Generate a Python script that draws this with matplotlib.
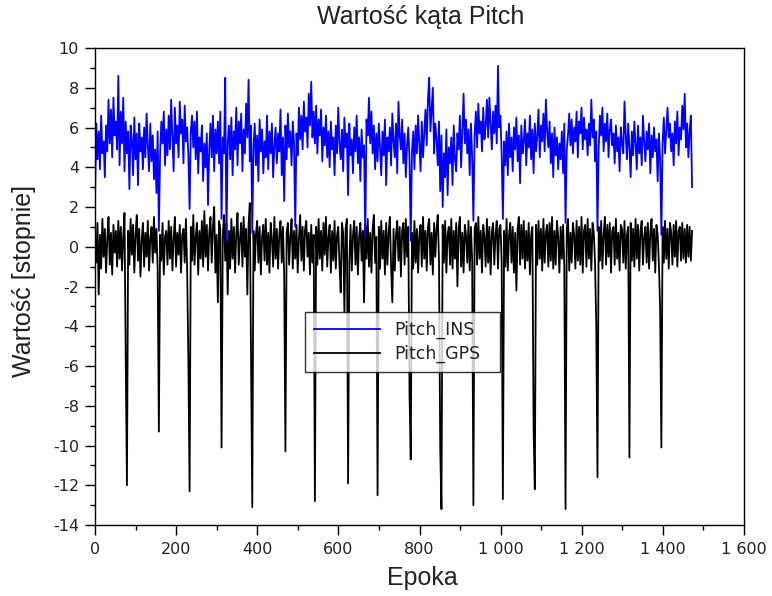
import numpy as np
import matplotlib
matplotlib.use("Agg")
import matplotlib.pyplot as plt
from matplotlib.ticker import MultipleLocator, FuncFormatter

plt.rcParams['font.family'] = ['Liberation Sans', 'DejaVu Sans']

# Last epoch of the record; samples below are evenly spread from epoch 0 to it
LAST_EPOCH = 1472

# Pitch from INS, in tenths of a degree (about one sample every 3 epochs)
pitch_ins_tenths = [
    22, 62, 44, 58, 39, 66, 47, 53, 35, 61,
    48, 74, 52, 69, 45, 75, 56, 63, 49, 86,
    41, 68, 52, 75, 38, 63, 47, 58, 29, 61,
    54, 36, 65, 44, 57, 31, 62, 48, 55, 39,
    60, 45, 67, 51, 38, 62, 43, 56, 34, 49,
    27, 58, 8, 47, 63, 52, 68, 41, 59, 46,
    66, 49, 74, 55, 38, 70, 52, 61, 45, 73,
    57, 64, 42, 71, 53, 60, 46, 19, 58, 66,
    50, 63, 44, 68, 37, 55, 48, 61, 33, 52,
    40, 57, 21, 49, 62, 45, 66, 38, 59, 47,
    63, 42, 68, 14, 55, 47, 85, 3, 52, 61,
    44, 65, 36, 58, 49, 70, 41, 63, 52, 67,
    38, 59, 47, 72, 55, 84, 43, 61, 7, 50,
    62, 41, 56, 33, 64, 48, 59, 37, 53, 45,
    66, 39, 58, 47, 62, 35, 51, 60, 42, 57,
    48, 69, 36, 55, 23, 61, 44, 67, 50, 58,
    41, 63, 52, 10, 57, 46, 70, 54, 66, 49,
    73, 58, 65, 50, 77, 61, 83, 55, 68, 52,
    71, 47, 64, 56, 69, 43, 60, 51, 66, 45,
    58, 40, 63, 49, 55, 36, 61, 47, 70, 52,
    44, 59, 38, 65, 50, 57, 26, 62, 46, 54,
    37, 60, 48, 66, 42, 55, 33, 59, 45, 51,
    5, 64, 56, 75, 52, 68, 47, 61, 39, 57,
    43, 62, 50, 36, 58, 46, 64, 31, 55, 48,
    60, 41, 67, 53, 45, 62, 37, 73, 56, 49,
    64, 42, 57, 35, 51, 60, 44, 3, 48, 58,
    39, 61, 47, 66, 52, 38, 63, 45, 57, 69,
    51, 74, 85, 58, 69, 80, 47, 62, 54, 41,
    63, 28, 56, 20, 47, 35, 59, 26, 50, 42,
    55, 31, 61, 44, 38, 57, 49, 66, 40, 58,
    77, 52, 64, 47, 59, 36, 62, 45, 13, 56,
    68, 50, 72, 57, 63, 48, 70, 54, 61, 74,
    55, 75, 62, 49, 68, 57, 71, 52, 91, 60,
    66, 47, 14, 53, 41, 58, 36, 62, 45, 55,
    38, 60, 49, 65, 43, 56, 32, 61, 47, 53,
    64, 41, 57, 50, 66, 44, 59, 37, 62, 48,
    56, 69, 45, 61, 53, 67, 48, 74, 58, 50,
    63, 42, 57, 35, 60, 46, 55, 39, 52, 44,
    58, 37, 62, 12, 49, 56, 67, 51, 64, 47,
    60, 53, 68, 45, 63, 57, 70, 49, 65, 54,
    59, 46, 62, 51, 74, 55, 64, 43, 58, 8,
    50, 66, 56, 70, 48, 62, 53, 67, 45, 59,
    64, 51, 57, 42, 61, 48, 55, 38, 60, 52,
    47, 73, 56, 44, 62, 50, 35, 58, 46, 63,
    52, 39, 61, 47, 55, 41, 66, 53, 43, 58,
    49, 62, 37, 56, 45, 60, 48, 54, 33, 57,
    44, 6, 52, 65, 47, 59, 70, 55, 62, 48,
    57, 41, 63, 52, 68, 46, 60, 54, 71, 59,
    77, 50, 62, 45, 58, 66, 30,
]

# Pitch from GPS, in tenths of a degree (about one sample every 3 epochs)
pitch_gps_tenths = [
    3, -8, 12, -24, 6, -11, 14, -5, 9, -13,
    4, 15, -9, 7, -14, 11, -3, 8, -10, 13,
    -6, 10, -12, 5, 17, -55, -120, 8, -9, 14,
    -4, 11, -13, 6, 16, -7, 9, -15, 3, 12,
    -10, 7, -5, 13, -12, 4, 10, -8, 15, -3,
    9, -11, -93, 6, -7, 12, -14, 5, 8, -9,
    13, -6, 10, -12, 4, 15, -10, 7, -4, 11,
    -13, 6, 9, -8, 14, -11, -57, -123, 10, -7,
    16, -9, 5, 12, -14, 8, -6, 13, -10, 18,
    -5, 11, -12, 7, 15, -8, 10, 20, -13, 6,
    -28, 13, 9, -101, 5, 16, -7, 12, -24, 8,
    -11, 14, -6, 10, -13, 7, 17, -9, 4, 12,
    -10, 15, -5, 9, -24, 11, 22, -55, -131, 8,
    -12, 6, 13, -8, 10, -14, 5, 11, -7, 14,
    -9, 7, -13, 12, 4, -10, 15, -6, 9, -11,
    6, 13, -8, 10, -15, -103, 7, 12, -9, 5,
    14, -11, 8, -6, 11, -13, 4, 16, -7, 10,
    -12, 9, 13, -5, 7, -14, 11, -8, 6, -128,
    10, -9, 14, -6, 8, -12, 12, -4, 15, -10,
    5, 11, -13, 8, -7, 13, -11, 6, 10, -9,
    -23, 12, 7, -33, 9, 14, -119, -8, 11, -12,
    6, 13, -9, 10, -14, 5, 12, -7, 8, -28,
    11, -6, 14, -10, 7, -13, 9, 16, -8, 5,
    -125, 10, -11, 13, -6, 8, -14, 12, -9, 7,
    15, -10, -28, 9, -12, 6, 13, -7, 10, -15,
    8, 12, -9, 14, -5, 10, -74, -107, 7, -11,
    13, -8, 9, -13, 6, 11, -10, 15, -6, 8,
    -12, 10, 14, -9, 7, -14, 12, -5, 9, 16,
    -7, -101, -132, 11, -8, 13, -13, 6, 10, -9,
    14, -11, 8, -6, 12, -20, 9, 15, -10, 7,
    -13, 11, 6, -8, 13, -12, 10, -7, -130, 9,
    12, -9, 15, -6, 8, -13, 11, 5, -10, 14,
    -8, 10, -14, 7, 12, -9, 6, 13, -11, 9,
    11, -7, -127, 8, -10, 14, -12, 6, 12, -8,
    10, -13, 7, -22, 9, 15, -9, 11, -6, 13,
    -11, 8, -7, 12, -14, 6, 10, -92, -122, 11,
    -9, 13, -6, 9, -12, 14, -8, 7, 11, -10,
    12, -7, 15, -11, 8, -9, 13, 5, -13, 10,
    -6, 11, -10, -132, 9, 14, -12, 7, -8, 12,
    6, -11, 13, -7, 10, -9, 15, -13, 8, 11,
    -10, 14, -6, 9, -12, 12, 7, -8, -39, -116,
    10, -7, 13, -11, 6, 15, -9, 11, -5, 12,
    -13, 8, 10, -9, 14, -6, 7, -12, 11, 9,
    -8, 13, -11, 6, 10, -106, 12, -7, 9, -10,
    14, -6, 11, -12, 8, 13, -9, 5, 10, -8,
    12, -11, 7, 14, -7, 9, -13, 11, 6, -9,
    -31, -101, 10, -8, 13, -6, 9, -11, 12, 7,
    -9, 11, -5, 13, -10, 8, 10, -7, 12, -6,
    9, -8, 11, -5, 10, -7, 8,
]

series_labels = ["Pitch_INS", "Pitch_GPS"]
title_text = "Wartość kąta Pitch"
xlabel_text = "Epoka"
ylabel_text = "Wartość [stopnie]"

ins = np.array(pitch_ins_tenths) / 10.0
gps = np.array(pitch_gps_tenths) / 10.0
x_ins = np.linspace(0, LAST_EPOCH, len(ins))
x_gps = np.linspace(0, LAST_EPOCH, len(gps))

W, H = 772, 596
AX_L, AX_R, AX_T, AX_B = 95, 744, 48, 525
fig = plt.figure(figsize=(W / 100, H / 100), dpi=100)
ax = fig.add_axes([AX_L / W, 1 - AX_B / H, (AX_R - AX_L) / W, (AX_B - AX_T) / H])

l_gps, = ax.plot(x_gps, gps, color='black', lw=1.3, label=series_labels[1])
l_ins, = ax.plot(x_ins, ins, color='blue', lw=1.3, label=series_labels[0])

ax.set_xlim(0, 1600)
ax.set_ylim(-14, 10)
ax.xaxis.set_major_locator(MultipleLocator(200))
ax.xaxis.set_minor_locator(MultipleLocator(100))
ax.yaxis.set_major_locator(MultipleLocator(2))
ax.yaxis.set_minor_locator(MultipleLocator(1))
ax.xaxis.set_major_formatter(FuncFormatter(lambda v, p: f"{int(round(v)):,}".replace(",", " ")))
ax.yaxis.set_major_formatter(FuncFormatter(lambda v, p: f"{int(round(v))}"))

ax.tick_params(which='both', direction='out', top=False, right=False, colors='black')
ax.tick_params(which='major', length=7.5, width=1)
ax.tick_params(which='minor', length=3.8, width=1)
ax.tick_params(axis='x', which='major', pad=5)
ax.tick_params(axis='y', which='major', pad=4)
for lab in ax.get_xticklabels() + ax.get_yticklabels():
    lab.set_fontfamily('DejaVu Sans')
    lab.set_fontsize(11.5)
    lab.set_color('#222222')
for s in ax.spines.values():
    s.set_linewidth(1.0)
    s.set_color('black')

fig.text(421 / W, 1 - 17 / H, title_text, fontsize=18, ha='center', va='center', color='#222222')
fig.text(422 / W, 1 - 578 / H, xlabel_text, fontsize=18, ha='center', va='center', color='#222222')
fig.text(24 / W, 1 - 281 / H, ylabel_text, fontsize=18, ha='center', va='center',
         rotation=90, color='#222222')

# legend box: pixel x 305..500, top at 312
axw = AX_R - AX_L
axh = AX_B - AX_T
leg = ax.legend(handles=[l_ins, l_gps], loc='upper left',
                bbox_to_anchor=((305 - AX_L) / axw, 1 - (312 - AX_T) / axh, 195 / axw, 0.0),
                mode='expand',
                prop={'family': 'DejaVu Sans', 'size': 12.5}, frameon=True, fancybox=False,
                edgecolor='black', handlelength=3.8, borderpad=0.5, labelspacing=0.35,
                handletextpad=0.85, borderaxespad=0)
leg.get_frame().set_linewidth(1.0)
for t in leg.get_texts():
    t.set_color('#222222')
for h in leg.legend_handles:
    h.set_linewidth(1.3)

fig.savefig("out.png", dpi=100)
